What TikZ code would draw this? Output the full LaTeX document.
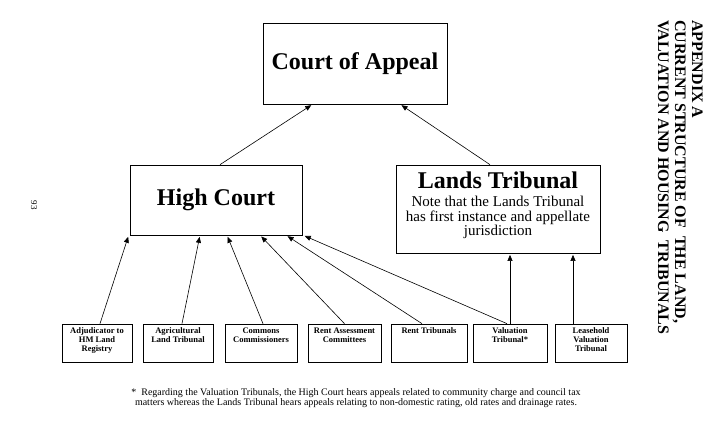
\documentclass[tikz,border=0pt]{standalone}
\usepackage{fontspec}
\setmainfont{Liberation Serif}
\usepackage{tikz}
\usetikzlibrary{calc, positioning, arrows.meta}

\begin{document}
\begin{tikzpicture}[x=1pt, y=-1pt,
    box/.style={draw, line width=0.7pt, inner sep=0pt},
    bigtext/.style={font=\fontsize{24}{26}\selectfont\bfseries},
    smalltext/.style={font=\fontsize{8.5}{9}\selectfont\bfseries, align=center, inner sep=0pt},
    arr/.style={-{Triangle[length=6pt, width=5pt]}, line width=0.6pt, shorten >=1.5pt}]
    \useasboundingbox (0, 0) rectangle (716, 437);
    %the courts
    \node[box, bigtext, minimum width=184, minimum height=81] (ca) at (355, 63.5) {Court of Appeal};
    \node[box, bigtext, minimum width=172, minimum height=70] (hc) at (216, 200) {High Court};
    \node[box, minimum width=204, minimum height=88] (lt) at (498, 209) {};
    \node[bigtext, inner sep=0pt, below=7pt of lt.north] (ltt) {Lands Tribunal};
    \node[font=\fontsize{15}{14.5}\selectfont, align=center, inner sep=0pt, below=7pt of ltt] (ltn)
        {Note that the Lands Tribunal\\has first instance and appellate\\jurisdiction};
    %the tribunals
    \node[box, minimum width=70, minimum height=38] (adj) at (97, 343) {};
    \node[box, minimum width=70, minimum height=38] (agr) at (178, 343) {};
    \node[box, minimum width=72, minimum height=38] (com) at (261, 343) {};
    \node[box, minimum width=73, minimum height=38] (rac) at (344.5, 343) {};
    \node[box, minimum width=76, minimum height=38] (rt) at (429, 343) {};
    \node[box, minimum width=74, minimum height=38] (vt) at (510, 343) {};
    \node[box, minimum width=72, minimum height=38] (lvt) at (591, 343) {};
    \node[smalltext, below=4pt of adj.north] (adjt) {Adjudicator to\\HM Land\\Registry};
    \node[smalltext, below=4pt of agr.north] (agrt) {Agricultural\\Land Tribunal};
    \node[smalltext, below=4pt of com.north] (comt) {Commons\\Commissioners};
    \node[smalltext, below=4pt of rac.north] (ract) {Rent Assessment\\Committees};
    \node[smalltext, below=4pt of rt.north] (rtt) {Rent Tribunals};
    \node[smalltext, below=4pt of vt.north] (vtt) {Valuation\\Tribunal*};
    \node[smalltext, below=4pt of lvt.north] (lvtt) {Leasehold\\Valuation\\Tribunal};
    %the appeals
    \draw[arr] ([xshift=4]hc.north) -- ($(ca.south west)!0.27!(ca.south east)$);
    \draw[arr] ([xshift=-8]lt.north) -- ($(ca.south west)!0.745!(ca.south east)$);
    \draw[arr] ([xshift=3]adj.north) -- ([xshift=-1]hc.south west);
    \draw[arr] ([xshift=4]agr.north) -- ($(hc.south west)!0.407!(hc.south east)$);
    \draw[arr] ([xshift=2]com.north) -- ($(hc.south west)!0.564!(hc.south east)$);
    \draw[arr] (rac.north) -- ($(hc.south west)!0.756!(hc.south east)$);
    \draw[arr] ([xshift=-7]rt.north) -- ($(hc.south west)!0.907!(hc.south east)$);
    \draw[arr] ([xshift=-3]vt.north) -- ([xshift=1]hc.south east);
    \draw[arr] (vt.north) -- (vt.north |- lt.south);
    \draw[arr] ([xshift=-18]lvt.north) -- ([xshift=-18]lvt.north |- lt.south);
    %footnote, page number and title
    \node[font=\fontsize{10}{10.5}\selectfont, align=center] (note) at (356, 398)
        {*\ \ Regarding the Valuation Tribunals, the High Court hears appeals related to community charge and council tax\\matters whereas the Lands Tribunal hears appeals relating to non-domestic rating, old rates and drainage rates.};
    \node[font=\fontsize{9}{10}\selectfont, rotate=-90] (page) at (34, 205) {93};
    \node[font=\fontsize{16}{17}\selectfont\bfseries, rotate=-90, align=left, anchor=north west, inner sep=0pt] (title) at (703, 20)
        {APPENDIX A\\CURRENT STRUCTURE OF\ \ THE LAND,\\VALUATION AND HOUSING\ \ TRIBUNALS};
\end{tikzpicture}
\end{document}
